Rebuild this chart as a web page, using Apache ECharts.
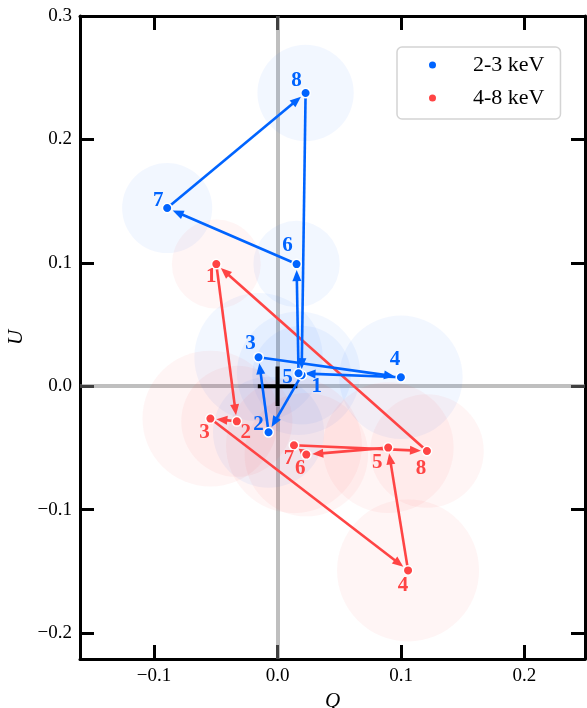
<!DOCTYPE html>
<html><head><meta charset="utf-8">
<script src="https://cdn.jsdelivr.net/npm/echarts@6/dist/echarts.min.js"></script>
<style>html,body{margin:0;padding:0;background:#fff}#c{width:587px;height:708px}</style>
</head><body><div id="c"></div>
<script>
const binLabels = ['1','2','3','4','5','6','7','8'];
// 2-3 keV
const softQ = [0.0195, -0.0073, -0.0154, 0.0999, 0.0170, 0.0154, -0.0894, 0.0227];
const softU = [0.0090, -0.0373, 0.0235, 0.0073, 0.0105, 0.0990, 0.1444, 0.2376];
const softErr = [0.040, 0.045, 0.052, 0.050, 0.050, 0.035, 0.0365, 0.039];
// 4-8 keV
const hardQ = [-0.0496, -0.0330, -0.0544, 0.1057, 0.0896, 0.0233, 0.0133, 0.1210];
const hardU = [0.0990, -0.0284, -0.0262, -0.1492, -0.0497, -0.0554, -0.0478, -0.0525];
const hardErr = [0.036, 0.045, 0.055, 0.0575, 0.053, 0.050, 0.055, 0.046];
const seriesNames = ['2-3 keV', '4-8 keV'];
const xTicks = [-0.1, 0.0, 0.1, 0.2];
const yTicks = [-0.2, -0.1, 0.0, 0.1, 0.2, 0.3];
const xRange = [-0.16, 0.249];
const yRange = [-0.221, 0.3];
const crossHalf = 0.016;

// style-only label offsets (pixels)
const softOffsets = [[15,11],[-10,-8],[-8,-14],[-6,-18],[-11,4],[-9,-18],[-9,-7],[-9,-12]];
const hardOffsets = [[-5,13],[9,11],[-6,14],[-5,15],[-11,15],[-6,14],[-5,13],[-6,18]];

const BLUE = '#0064ff', RED = '#ff4444';
const SERIF = 'Liberation Serif';

function fmt(v){ return (v < 0 ? '\u2212' : '') + Math.abs(v).toFixed(1); }

function circleData(Q, U, E){ return Q.map((q,i)=>[q, U[i], E[i]]); }
function arrowData(Q, U){ const n=Q.length; return Q.map((q,i)=>[q, U[i], Q[(i+1)%n], U[(i+1)%n]]); }
function pointData(Q, U, offs){ return Q.map((q,i)=>({value:[q,U[i]], label:{offset:offs[i]}, name: binLabels[i]})); }

function circleRender(fill){
  return function(params, api){
    const c = api.coord([api.value(0), api.value(1)]);
    const r = api.size([api.value(2), 0])[0];
    return {type:'circle', shape:{cx:c[0], cy:c[1], r:r}, style:{fill:fill}};
  };
}
function arrowRender(color){
  return function(params, api){
    const a = api.coord([api.value(0), api.value(1)]);
    const b = api.coord([api.value(2), api.value(3)]);
    const dx=b[0]-a[0], dy=b[1]-a[1];
    const L=Math.hypot(dx,dy)||1; const ux=dx/L, uy=dy/L;
    const back = 6;
    const hl = Math.min(11, Math.max(5, L-back-2)), hw = 4.5;
    const tip=[b[0]-ux*back, b[1]-uy*back];
    const base=[tip[0]-ux*hl, tip[1]-uy*hl];
    const px=-uy, py=ux;
    return {type:'group', children:[
      {type:'line', shape:{x1:a[0], y1:a[1], x2:base[0]+ux*2, y2:base[1]+uy*2}, style:{stroke:color, lineWidth:2.6}},
      {type:'polygon', shape:{points:[tip,[base[0]+px*hw, base[1]+py*hw],[base[0]-px*hw, base[1]-py*hw]]}, style:{fill:color}}
    ]};
  };
}
function crossRender(params, api){
  const l = api.coord([-crossHalf, 0]), r = api.coord([crossHalf, 0]);
  const t = api.coord([0, crossHalf]), b = api.coord([0, -crossHalf]);
  return {type:'group', children:[
    {type:'line', shape:{x1:l[0], y1:l[1], x2:r[0], y2:r[1]}, style:{stroke:'#000', lineWidth:4}},
    {type:'line', shape:{x1:t[0], y1:t[1], x2:b[0], y2:b[1]}, style:{stroke:'#000', lineWidth:4}}
  ]};
}

const axisLineStyle = {color:'#000', width:3};
const chart = echarts.init(document.getElementById('c'), null, {renderer:'canvas'});
chart.setOption({
  animation:false,
  backgroundColor:'#fff',
  grid:{left:80, top:16, width:505, height:643, containLabel:false, outerBoundsMode:'none'},
  xAxis:[
    {type:'value', position:'bottom', min:xRange[0], max:xRange[1],
     axisLine:{onZero:false, lineStyle:axisLineStyle},
     axisTick:{inside:true, length:14, lineStyle:{color:'#000', width:3}, customValues:xTicks},
     axisLabel:{customValues:xTicks, formatter:fmt, margin:8, color:'#000', fontFamily:SERIF, fontSize:19},
     splitLine:{show:false},
     name:'Q', nameLocation:'middle', nameGap:21,
     nameTextStyle:{fontFamily:SERIF, fontStyle:'italic', fontSize:21, color:'#000'}},
    {type:'value', position:'top', min:xRange[0], max:xRange[1],
     axisLine:{onZero:false, lineStyle:axisLineStyle},
     axisTick:{inside:true, length:14, lineStyle:{color:'#000', width:3}, customValues:xTicks},
     axisLabel:{show:false}, splitLine:{show:false}}
  ],
  yAxis:[
    {type:'value', position:'left', min:yRange[0], max:yRange[1],
     axisLine:{onZero:false, lineStyle:axisLineStyle},
     axisTick:{inside:true, length:14, lineStyle:{color:'#000', width:3}, customValues:yTicks},
     axisLabel:{customValues:yTicks, formatter:fmt, margin:8, color:'#000', fontFamily:SERIF, fontSize:19},
     splitLine:{show:false},
     name:'U', nameLocation:'middle', nameGap:53, nameRotate:90,
     nameTextStyle:{fontFamily:SERIF, fontStyle:'italic', fontSize:21, color:'#000'}},
    {type:'value', position:'right', min:yRange[0], max:yRange[1],
     axisLine:{onZero:false, lineStyle:axisLineStyle},
     axisTick:{inside:true, length:14, lineStyle:{color:'#000', width:3}, customValues:yTicks},
     axisLabel:{show:false}, splitLine:{show:false}}
  ],
  legend:{
    data:seriesNames, orient:'vertical', left:397, top:47, icon:'circle',
    itemWidth:9, itemHeight:9, itemGap:11, padding:[7,16,10,30],
    borderColor:'#d4d4d4', borderWidth:1.5, borderRadius:5, backgroundColor:'#fff',
    selectedMode:false,
    textStyle:{fontFamily:SERIF, fontSize:22, color:'#000', padding:[0,0,0,31]}
  },
  series:[
    {type:'custom', name:'err-soft', coordinateSystem:'cartesian2d', data:circleData(softQ,softU,softErr),
     encode:{x:0,y:1}, renderItem:circleRender('rgba(0,100,255,0.05)'), silent:true, z:1},
    {type:'custom', name:'err-hard', coordinateSystem:'cartesian2d', data:circleData(hardQ,hardU,hardErr),
     encode:{x:0,y:1}, renderItem:circleRender('rgba(255,60,60,0.05)'), silent:true, z:1},
    {type:'scatter', name:'zero-lines', data:[], silent:true, z:1,
     markLine:{silent:true, symbol:'none', label:{show:false}, animation:false, z:1,
       lineStyle:{color:'rgba(128,128,128,0.5)', width:4, type:'solid'},
       data:[{xAxis:0},{yAxis:0}]}},
    {type:'custom', name:'cross', coordinateSystem:'cartesian2d', data:[[0,0]], encode:{x:0,y:1},
     renderItem:crossRender, silent:true, z:3},
    {type:'custom', name:'arrows-hard', coordinateSystem:'cartesian2d', data:arrowData(hardQ,hardU),
     encode:{x:[0,2], y:[1,3]}, renderItem:arrowRender(RED), silent:true, z:4},
    {type:'custom', name:'arrows-soft', coordinateSystem:'cartesian2d', data:arrowData(softQ,softU),
     encode:{x:[0,2], y:[1,3]}, renderItem:arrowRender(BLUE), silent:true, z:4},
    {type:'scatter', name:seriesNames[1], data:pointData(hardQ,hardU,hardOffsets), symbol:'circle', symbolSize:9.5, z:5,
     itemStyle:{color:RED, borderColor:'#fff', borderWidth:1.5, opacity:1},
     label:{show:true, position:'inside', formatter:p=>p.name, color:RED, fontFamily:SERIF, fontWeight:'bold', fontSize:21}},
    {type:'scatter', name:seriesNames[0], data:pointData(softQ,softU,softOffsets), symbol:'circle', symbolSize:9.5, z:5,
     itemStyle:{color:BLUE, borderColor:'#fff', borderWidth:1.5, opacity:1},
     label:{show:true, position:'inside', formatter:p=>p.name, color:BLUE, fontFamily:SERIF, fontWeight:'bold', fontSize:21}}
  ]
});
</script></body></html>
